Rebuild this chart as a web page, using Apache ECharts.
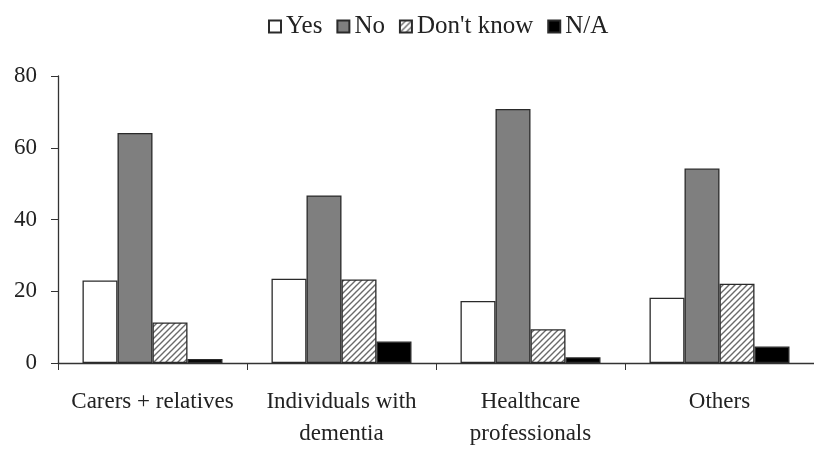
<!DOCTYPE html>
<html><head><meta charset="utf-8">
<script src="https://cdn.jsdelivr.net/npm/echarts@6/dist/echarts.min.js"></script>
<style>html,body{margin:0;padding:0;background:#fff}#c{width:814px;height:450px}</style>
</head><body><div id="c"></div>
<script>
var categories = ['Carers + relatives', 'Individuals with\ndementia', 'Healthcare\nprofessionals', 'Others'];
var yesValues = [23.0, 23.5, 17.3, 18.2];
var noValues = [64.1, 46.7, 70.8, 54.2];
var dontKnowValues = [11.3, 23.3, 9.4, 22.1];
var naValues = [1.1, 6.0, 1.6, 4.6];
var yTicks = [0, 20, 40, 60, 80];

function hatch() {
  var c = document.createElement('canvas');
  c.width = 6; c.height = 6;
  var g = c.getContext('2d');
  g.fillStyle = '#ffffff'; g.fillRect(0, 0, 6, 6);
  g.strokeStyle = '#6a6a6a'; g.lineWidth = 1.4;
  g.beginPath();
  g.moveTo(0, 6); g.lineTo(6, 0);
  g.moveTo(-3, 3); g.lineTo(3, -3);
  g.moveTo(3, 9); g.lineTo(9, 3);
  g.stroke();
  return c;
}
var font = 'Liberation Serif';
var chart = echarts.init(document.getElementById('c'));
var border = '#2a2a2a';
function s(name, data, color) {
  return { name: name, type: 'bar', data: data, barWidth: 35, barGap: '0%',
    itemStyle: { color: color, borderColor: border, borderWidth: 1.3 } };
}
chart.setOption({
  animation: false,
  textStyle: { fontFamily: font },
  legend: { top: 9, left: 263, icon: 'rect', itemWidth: 12, itemHeight: 12, itemGap: 14,
    textStyle: { fontFamily: font, fontSize: 25, color: '#222' },
    data: ['Yes', 'No', "Don't know", 'N/A'] },
  grid: { left: 58, right: -4, top: 76, bottom: 86 },
  xAxis: { type: 'category', data: categories,
    axisLine: { lineStyle: { color: '#333', width: 1.3 } },
    axisTick: { show: true, length: 7, lineStyle: { color: '#333' } },
    axisLabel: { fontFamily: font, fontSize: 23, color: '#222', margin: 23, lineHeight: 32, interval: 0 } },
  yAxis: { type: 'value', min: yTicks[0], max: yTicks[yTicks.length - 1], interval: 20,
    axisLine: { show: true, lineStyle: { color: '#333', width: 1.3 } },
    axisTick: { show: true, length: 7, lineStyle: { color: '#333' } },
    splitLine: { show: false },
    axisLabel: { fontFamily: font, fontSize: 23, color: '#222', margin: 21 } },
  series: [
    s('Yes', yesValues, '#ffffff'),
    s('No', noValues, '#7f7f7f'),
    s("Don't know", dontKnowValues, { image: hatch(), repeat: 'repeat' }),
    s('N/A', naValues, '#000000')
  ]
});
</script></body></html>
